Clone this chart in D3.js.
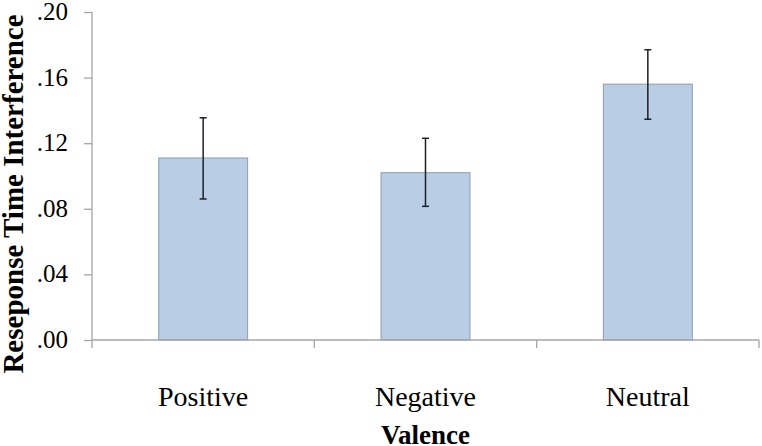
<!DOCTYPE html>
<html><head><meta charset="utf-8">
<script src="https://cdn.jsdelivr.net/npm/d3@7/dist/d3.min.js"></script>
<style>body{margin:0;background:#fff}svg{display:block}text{font-family:"Liberation Serif","Times New Roman",serif}</style>
</head><body><svg id="c" width="762" height="446"></svg>
<script>
const categories = ["Positive", "Negative", "Neutral"];
const means = [0.111, 0.102, 0.156];
const errLow = [0.086, 0.0815, 0.1346];
const errHigh = [0.1355, 0.123, 0.177];
const yTicks = [0, 0.04, 0.08, 0.12, 0.16, 0.20];
const yTickLabels = [".00", ".04", ".08", ".12", ".16", ".20"];

(function(){
const svg = d3.select("#c");
const mL = 92, mR = 759, mT = 12, mB = 340;
const x = d3.scaleBand().domain(categories).range([mL, mR]).paddingInner(0.6).paddingOuter(0.3);
const y = d3.scaleLinear().domain([0, 0.2]).range([mB, mT]);

const ya = svg.append("g").attr("transform", `translate(${mL},0)`)
  .call(d3.axisLeft(y).tickValues(yTicks).tickFormat((d,i)=>yTickLabels[i]).tickSize(8).tickPadding(16));
ya.attr("font-family", null).attr("font-size", 25);
ya.select(".domain").attr("stroke", "#a6a6a6").attr("stroke-width", 1.3).attr("d", `M0,${mT}V${mB}`);
ya.selectAll(".tick line").attr("stroke", "#a6a6a6").attr("stroke-width", 1.3);
ya.selectAll(".tick text").attr("fill", "#000").attr("dy", "0.3em");

svg.append("g").selectAll("rect").data(categories).join("rect")
  .attr("x", d => x(d)).attr("width", x.bandwidth())
  .attr("y", (d,i) => y(means[i])).attr("height", (d,i) => y(0) - y(means[i]))
  .attr("fill", "#b9cde5").attr("stroke", "#8c9cb2").attr("stroke-width", 1);

const step = x.step();
const xb = [mL, mL + step, mL + 2*step, mR];
const xa = svg.append("g");
xa.append("line").attr("x1", mL).attr("x2", mR).attr("y1", mB).attr("y2", mB)
  .attr("stroke", "#a6a6a6").attr("stroke-width", 1.3);
xa.selectAll("line.t").data(xb).join("line").attr("class","t")
  .attr("x1", d=>d).attr("x2", d=>d).attr("y1", mB).attr("y2", mB + 8)
  .attr("stroke", "#a6a6a6").attr("stroke-width", 1.3);
xa.selectAll("text").data(categories).join("text")
  .attr("x", d => x(d) + x.bandwidth()/2).attr("y", 406)
  .attr("text-anchor", "middle").attr("font-size", 28).text(d => d);

const eb = svg.append("g").attr("stroke", "#1c1f2a").attr("stroke-width", 1.5);
categories.forEach((c,i) => {
  const cx = x(c) + x.bandwidth()/2;
  eb.append("line").attr("x1", cx).attr("x2", cx).attr("y1", y(errHigh[i])).attr("y2", y(errLow[i]));
  eb.append("line").attr("x1", cx-3.5).attr("x2", cx+3.5).attr("y1", y(errHigh[i])).attr("y2", y(errHigh[i]));
  eb.append("line").attr("x1", cx-3.5).attr("x2", cx+3.5).attr("y1", y(errLow[i])).attr("y2", y(errLow[i]));
});

svg.append("text").attr("x", (mL+mR)/2).attr("y", 444).attr("text-anchor","middle")
  .attr("font-size", 27).attr("font-weight","bold").text("Valence");
svg.append("text").attr("transform", `translate(23,194) rotate(-90)`)
  .attr("text-anchor","middle").attr("font-size", 29).attr("font-weight","bold")
  .text("Reseponse Time Interference");
})();
</script></body></html>
